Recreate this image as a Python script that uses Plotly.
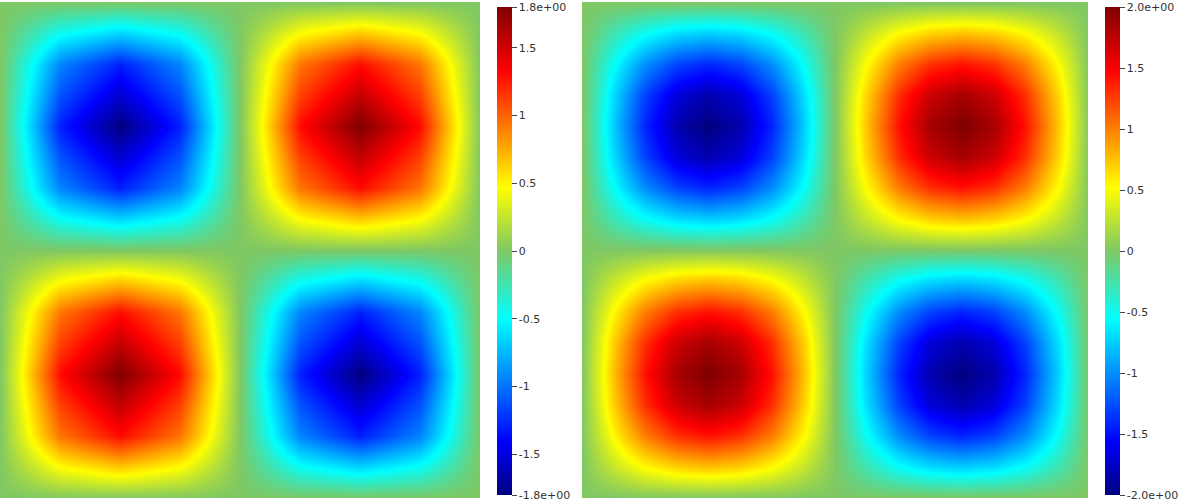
import numpy as np
import plotly.graph_objects as go

# profiles read along a row/column through the extremes (normalised)
coarse_profile = [0.0, 0.72, 1.0, 0.72, 0.0, -0.72, -1.0, -0.72, 0.0]
fine_profile = [0.0, 0.38, 0.71, 0.92, 1.0, 0.92, 0.71, 0.38, 0.0,
                -0.38, -0.71, -0.92, -1.0, -0.92, -0.71, -0.38, 0.0]
coarse_amp = 1.8
fine_amp = 2.0

z_left = -coarse_amp * np.outer(coarse_profile, coarse_profile)[::-1]
z_right = -fine_amp * np.outer(fine_profile, fine_profile)[::-1]

jet = [[0, "#00007f"], [0.11, "#0000ff"], [0.36, "#00ffff"], [0.5, "#7fc864"],
       [0.63, "#ffff00"], [0.87, "#ff0000"], [1, "#7f0000"]]

left_ticks = [-1.8, -1.5, -1, -0.5, 0, 0.5, 1, 1.5, 1.8]
left_text = ["-1.8e+00", "-1.5", "-1", "-0.5", "0", "0.5", "1", "1.5", "1.8e+00"]
right_ticks = [-2, -1.5, -1, -0.5, 0, 0.5, 1, 1.5, 2]
right_text = ["-2.0e+00", "-1.5", "-1", "-0.5", "0", "0.5", "1", "1.5", "2.0e+00"]


def cbar(x, vals, text):
    return dict(x=x, xanchor="left", y=0.5, yanchor="middle", len=0.972,
                thickness=15, xpad=0, ypad=0,
                tickvals=vals, ticktext=text, ticks="outside", ticklen=5,
                tickcolor="#444", outlinewidth=0,
                tickfont=dict(family="DejaVu Sans", size=11, color="#333"))


fig = go.Figure()
fig.add_trace(go.Heatmap(z=z_left, zsmooth="best", colorscale=jet,
                         zmin=-coarse_amp, zmax=coarse_amp,
                         colorbar=cbar(0.414, left_ticks, left_text),
                         xaxis="x", yaxis="y"))
fig.add_trace(go.Heatmap(z=z_right, zsmooth="best", colorscale=jet,
                         zmin=-fine_amp, zmax=fine_amp,
                         colorbar=cbar(0.921, right_ticks, right_text),
                         xaxis="x2", yaxis="y2"))

hidden = dict(visible=False, showgrid=False, zeroline=False)
n1 = len(coarse_profile) - 1
n2 = len(fine_profile) - 1
fig.update_layout(
    width=1200, height=502, margin=dict(l=0, r=0, t=0, b=0),
    paper_bgcolor="white", plot_bgcolor="white",
    xaxis=dict(domain=[0, 0.4], range=[0, n1], **hidden),
    yaxis=dict(domain=[0.008, 0.996], range=[0, n1], **hidden),
    xaxis2=dict(domain=[0.485, 0.907], range=[0, n2], **hidden),
    yaxis2=dict(domain=[0.008, 0.996], range=[0, n2], anchor="x2", **hidden),
)
fig.write_html("out.html", config={"displayModeBar": False},
               post_script="document.body.style.margin='0';")
